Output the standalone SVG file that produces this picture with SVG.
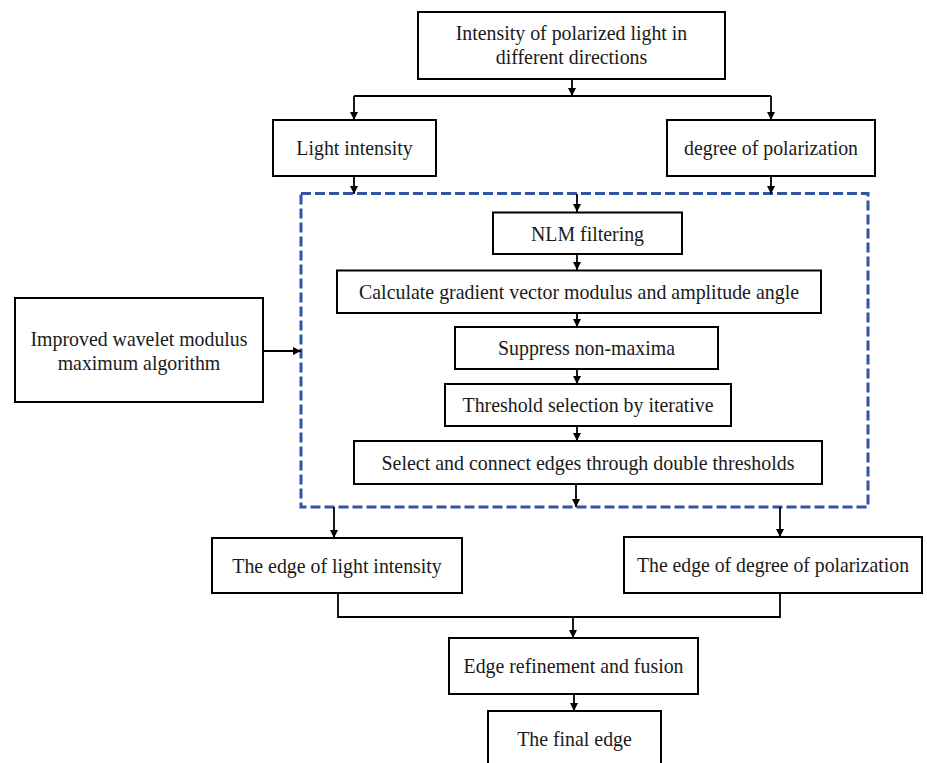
<svg xmlns="http://www.w3.org/2000/svg" width="927" height="763" viewBox="0 0 927 763">
<defs>
<marker id="ah" viewBox="0 0 10 10" refX="10" refY="5" markerWidth="9" markerHeight="8" markerUnits="userSpaceOnUse" orient="auto">
<path d="M0,0 L10,5 L0,10 z" fill="#000"/>
</marker>
<style>
.box{fill:#fff;stroke:#000;stroke-width:2}
.t{font-family:"Liberation Serif","Times New Roman",serif;font-size:21px;fill:#1a1a1a;text-anchor:middle}
.c{fill:none;stroke:#000;stroke-width:1.8}
.a{fill:none;stroke:#000;stroke-width:1.8;marker-end:url(#ah)}
.dash{fill:none;stroke:#2f55a4;stroke-width:3;stroke-dasharray:10 4}
</style>
</defs>
<rect width="927" height="763" fill="#fff"/>
<g id="group">
<rect class="dash" x="301" y="193.5" width="567" height="313.5"/>
</g>
<g id="connectors">
<path class="a" d="M572,79 V96"/>
<path class="c" d="M354,96 H771"/>
<path class="a" d="M354,96 V120"/>
<path class="a" d="M771,96 V120"/>
<path class="a" d="M354,176 V194"/>
<path class="a" d="M771,176 V194"/>
<path class="a" d="M577,194 V212"/>
<path class="a" d="M577,254 V270"/>
<path class="a" d="M577,313 V327"/>
<path class="a" d="M577,369 V384"/>
<path class="a" d="M577,426 V441"/>
<path class="a" d="M576,484 V507"/>
<path class="a" d="M263,351 H301"/>
<path class="a" d="M334,507 V538"/>
<path class="a" d="M780,507 V537"/>
<path class="c" d="M338,593 V617 H780 V593"/>
<path class="a" d="M573,617 V638"/>
<path class="a" d="M574,694 V711"/>
</g>
<g id="n1"><rect class="box" x="418" y="12" width="307" height="67"/>
<text class="t" x="571.5" y="40" textLength="231.5" lengthAdjust="spacingAndGlyphs">Intensity of polarized light in</text>
<text class="t" x="571.5" y="64" textLength="151.6" lengthAdjust="spacingAndGlyphs">different directions</text></g>
<g id="n2"><rect class="box" x="273" y="120" width="163" height="56"/>
<text class="t" x="354.5" y="155" textLength="116.3" lengthAdjust="spacingAndGlyphs">Light intensity</text></g>
<g id="n3"><rect class="box" x="667" y="120" width="208" height="56"/>
<text class="t" x="771" y="155" textLength="174" lengthAdjust="spacingAndGlyphs">degree of polarization</text></g>
<g id="n4"><rect class="box" x="493" y="212.5" width="189" height="41.5"/>
<text class="t" x="587.5" y="240.5" textLength="113" lengthAdjust="spacingAndGlyphs">NLM filtering</text></g>
<g id="n5"><rect class="box" x="337" y="270.5" width="484" height="42.5"/>
<text class="t" x="579" y="299" textLength="440" lengthAdjust="spacingAndGlyphs">Calculate gradient vector modulus and amplitude angle</text></g>
<g id="n6"><rect class="box" x="455" y="327" width="263" height="42"/>
<text class="t" x="586.5" y="355" textLength="177" lengthAdjust="spacingAndGlyphs">Suppress non-maxima</text></g>
<g id="n7"><rect class="box" x="445" y="384" width="286" height="42"/>
<text class="t" x="588" y="412" textLength="251" lengthAdjust="spacingAndGlyphs">Threshold selection by iterative</text></g>
<g id="n8"><rect class="box" x="354" y="441" width="468" height="43"/>
<text class="t" x="588" y="469.5" textLength="413" lengthAdjust="spacingAndGlyphs">Select and connect edges through double thresholds</text></g>
<g id="n9"><rect class="box" x="15" y="298" width="248" height="104"/>
<text class="t" x="139" y="346" textLength="217" lengthAdjust="spacingAndGlyphs">Improved wavelet modulus</text>
<text class="t" x="139" y="370" textLength="162.6" lengthAdjust="spacingAndGlyphs">maximum algorithm</text></g>
<g id="n10"><rect class="box" x="212" y="538" width="250" height="55"/>
<text class="t" x="337" y="572.5" textLength="209.5" lengthAdjust="spacingAndGlyphs">The edge of light intensity</text></g>
<g id="n11"><rect class="box" x="624" y="537" width="298" height="56"/>
<text class="t" x="773" y="572" textLength="272" lengthAdjust="spacingAndGlyphs">The edge of degree of polarization</text></g>
<g id="n12"><rect class="box" x="449" y="638" width="249" height="56"/>
<text class="t" x="573.5" y="673" textLength="220" lengthAdjust="spacingAndGlyphs">Edge refinement and fusion</text></g>
<g id="n13"><rect class="box" x="488" y="711" width="173" height="60"/>
<text class="t" x="574.5" y="745.5" textLength="114.6" lengthAdjust="spacingAndGlyphs">The final edge</text></g>
</svg>
